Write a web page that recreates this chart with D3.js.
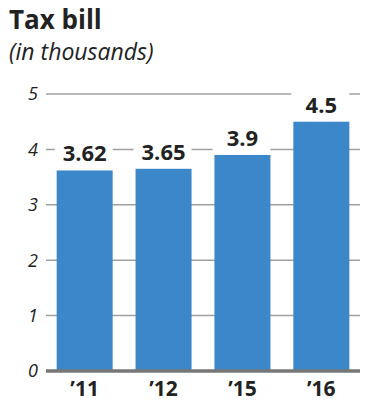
<!DOCTYPE html>
<html>
<head>
<meta charset="utf-8">
<script src="https://cdn.jsdelivr.net/npm/d3@7"></script>
<style>
  body { margin: 0; background: #fff; }
  text { font-family: "Open Sans", sans-serif; }
</style>
</head>
<body>
<script>
var years = ['\u201911', '\u201912', '\u201915', '\u201916'];
var bills = [3.62, 3.65, 3.9, 4.5];
var yTicks = [0, 1, 2, 3, 4, 5];

var margin = { top: 94, right: 15, bottom: 33, left: 46 };
var width = 375 - margin.left - margin.right;
var height = 404 - margin.top - margin.bottom;

var svg = d3.select('body').append('svg')
  .attr('width', 375)
  .attr('height', 404);

svg.append('text')
  .attr('x', 9).attr('y', 29)
  .attr('font-size', 26).attr('font-weight', 700)
  .attr('fill', '#222')
  .text('Tax bill');

svg.append('text')
  .attr('x', 9).attr('y', 60)
  .attr('font-size', 23).attr('font-style', 'italic')
  .attr('fill', '#222')
  .text('(in thousands)');

var g = svg.append('g')
  .attr('transform', `translate(${margin.left}, ${margin.top})`);

var xScale = d3.scaleBand().domain(years).range([0, width]).paddingInner(0.29).paddingOuter(0.135);
var yScale = d3.scaleLinear().domain([0, 5]).range([height, 0]);

// grid lines
g.append('g')
  .selectAll('line')
  .data(yTicks.filter(function(d) { return d > 0; }))
  .enter().append('line')
  .attr('x1', 0).attr('x2', width)
  .attr('y1', function(d) { return yScale(d); })
  .attr('y2', function(d) { return yScale(d); })
  .attr('stroke', '#a0a0a0').attr('stroke-width', 1.5);

g.append('g')
  .selectAll('text')
  .data(yTicks)
  .enter().append('text')
  .attr('x', -8)
  .attr('y', function(d) { return yScale(d); })
  .attr('dy', '0.36em')
  .attr('text-anchor', 'end')
  .attr('font-size', 18).attr('font-style', 'italic')
  .attr('fill', '#222')
  .text(function(d) { return d; });

// white backing above each bar breaks the gridlines behind the labels
g.selectAll('.back')
  .data(bills)
  .enter().append('rect')
  .attr('class', 'back')
  .attr('x', function(d, i) { return xScale(years[i]) - 2; })
  .attr('width', xScale.bandwidth() + 2)
  .attr('y', function(d) { return yScale(d) - 42; })
  .attr('height', 42)
  .attr('fill', '#fff');

g.selectAll('.bar')
  .data(bills)
  .enter().append('rect')
  .attr('class', 'bar')
  .attr('x', function(d, i) { return xScale(years[i]); })
  .attr('width', xScale.bandwidth())
  .attr('y', function(d) { return yScale(d); })
  .attr('height', function(d) { return height - yScale(d); })
  .attr('fill', '#3c87c9');

g.selectAll('.val')
  .data(bills)
  .enter().append('text')
  .attr('class', 'val')
  .attr('x', function(d, i) { return xScale(years[i]) + xScale.bandwidth() / 2; })
  .attr('y', function(d) { return yScale(d) - 9; })
  .attr('text-anchor', 'middle')
  .attr('font-size', 22).attr('font-weight', 700)
  .attr('fill', '#222')
  .text(function(d) { return d; });

g.append('line')
  .attr('x1', 0).attr('x2', width)
  .attr('y1', height).attr('y2', height)
  .attr('stroke', '#777').attr('stroke-width', 3.5);

g.append('g')
  .selectAll('text')
  .data(years)
  .enter().append('text')
  .attr('x', function(d) { return xScale(d) + xScale.bandwidth() / 2; })
  .attr('y', height + 25)
  .attr('text-anchor', 'middle')
  .attr('font-size', 21).attr('font-weight', 700)
  .attr('fill', '#222')
  .text(function(d) { return d; });
</script>
</body>
</html>
